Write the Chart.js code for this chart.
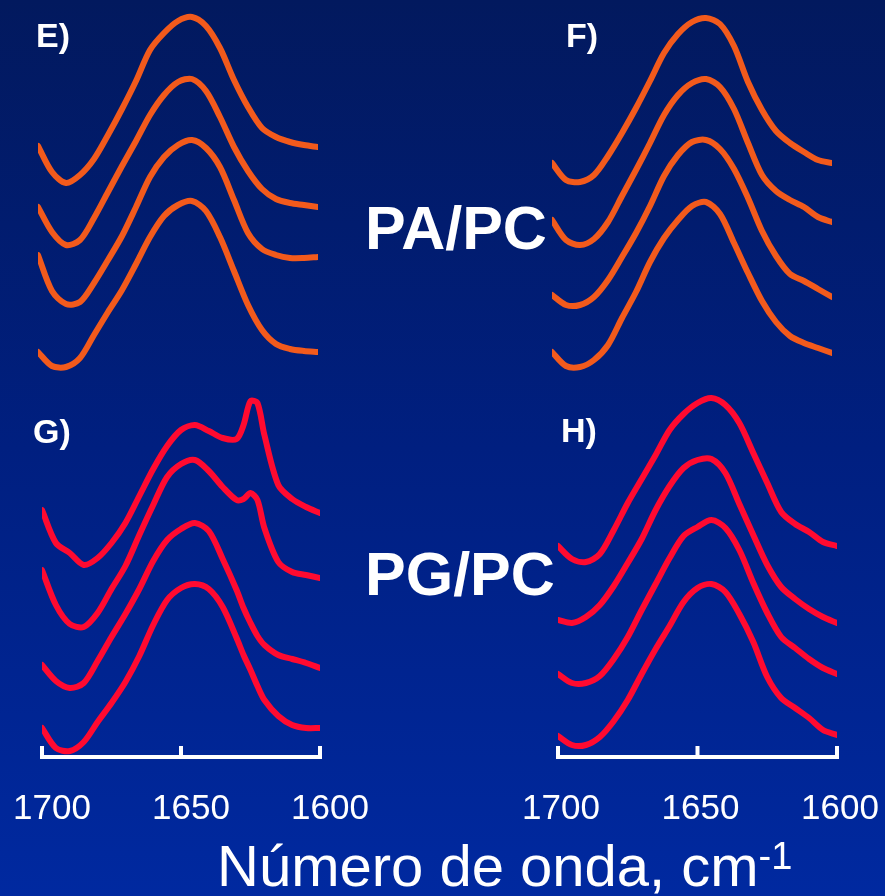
<!DOCTYPE html>
<html>
<head>
<meta charset="utf-8">
<script src="https://cdn.jsdelivr.net/npm/chart.js@4/dist/chart.umd.min.js"></script>
<style>
  html, body { margin: 0; padding: 0; }
  body {
    width: 885px; height: 896px; overflow: hidden; position: relative;
    background: linear-gradient(to bottom, #02195e 0%, #001f80 50%, #0029a0 100%);
    font-family: "Liberation Sans", Arial, sans-serif; color: #fff;
  }
  canvas { position: absolute; left: 0; top: 0; }
  .lbl { position: absolute; line-height: 1; white-space: nowrap; }
  .panel { font-size: 34px; font-weight: bold; }
  .group { font-size: 61px; font-weight: bold; }
  .title { font-size: 58px; }
  .title span { font-size: 38px; position: relative; top: -17px; }
</style>
</head>
<body>
<canvas id="chartE" width="885" height="896"></canvas>
<canvas id="chartF" width="885" height="896"></canvas>
<canvas id="chartG" width="885" height="896"></canvas>
<canvas id="chartH" width="885" height="896"></canvas>

<div class="lbl panel" style="left:36px; top:18px;">E)</div>
<div class="lbl panel" style="left:566px; top:18px;">F)</div>
<div class="lbl panel" style="left:33px; top:414px;">G)</div>
<div class="lbl panel" style="left:561px; top:413px;">H)</div>
<div class="lbl group" style="left:365px; top:198px;">PA/PC</div>
<div class="lbl group" style="left:365px; top:544px;">PG/PC</div>
<div class="lbl title" style="left:217px; top:837px;">Número de onda, cm<span>-1</span></div>

<script>
// wavenumber grids (cm-1); G gets two extra points around the sharp band near 1625
var wavenumbers = [1700, 1695, 1690, 1685, 1680, 1675, 1670, 1665, 1660, 1655, 1650,
                   1645, 1640, 1635, 1630, 1625, 1620, 1615, 1610, 1605, 1600];
var wavenumbersG = [1700, 1695, 1690, 1685, 1680, 1675, 1670, 1665, 1660, 1655, 1650,
                    1645, 1640, 1635, 1630, 1627.5, 1625, 1622.5, 1620, 1615, 1610, 1605, 1600];
var axisTicks = [1700, 1650, 1600];

// E) PA/PC, stacked spectra (arbitrary absorbance, already offset)
var spectrumE1 = [6.11, 5.85, 5.74, 5.82, 5.98, 6.22, 6.48, 6.76, 7.07, 7.24, 7.36, 7.40, 7.31, 7.09, 6.77, 6.50, 6.29, 6.20, 6.15, 6.12, 6.10];
var spectrumE2 = [5.50, 5.25, 5.12, 5.17, 5.39, 5.65, 5.91, 6.16, 6.42, 6.62, 6.75, 6.78, 6.66, 6.40, 6.10, 5.86, 5.68, 5.58, 5.54, 5.52, 5.50];
var spectrumE3 = [5.02, 4.66, 4.53, 4.55, 4.74, 4.97, 5.21, 5.50, 5.80, 6.00, 6.12, 6.17, 6.09, 5.90, 5.57, 5.24, 5.08, 5.02, 4.99, 4.99, 5.00];
var spectrumE4 = [4.05, 3.91, 3.90, 3.99, 4.22, 4.45, 4.67, 4.93, 5.20, 5.41, 5.52, 5.56, 5.46, 5.20, 4.86, 4.52, 4.27, 4.13, 4.08, 4.06, 4.05];

// F) PA/PC
var spectrumF1 = [5.94, 5.77, 5.75, 5.82, 6.01, 6.24, 6.49, 6.76, 7.04, 7.23, 7.35, 7.39, 7.33, 7.11, 6.75, 6.47, 6.26, 6.14, 6.05, 5.97, 5.94];
var spectrumF2 = [5.37, 5.17, 5.12, 5.18, 5.35, 5.61, 5.87, 6.14, 6.42, 6.62, 6.74, 6.78, 6.70, 6.48, 6.14, 5.82, 5.66, 5.57, 5.50, 5.40, 5.35];
var spectrumF3 = [4.62, 4.52, 4.52, 4.60, 4.77, 5.00, 5.24, 5.51, 5.81, 6.02, 6.15, 6.17, 6.08, 5.88, 5.59, 5.26, 5.01, 4.83, 4.76, 4.68, 4.60];
var spectrumF4 = [4.05, 3.91, 3.90, 3.97, 4.12, 4.39, 4.65, 4.95, 5.19, 5.37, 5.51, 5.55, 5.43, 5.14, 4.84, 4.56, 4.35, 4.21, 4.14, 4.09, 4.04];

// G) PG/PC (uses wavenumbersG)
var spectrumG1 = [2.47, 2.14, 2.04, 1.92, 1.99, 2.14, 2.34, 2.61, 2.88, 3.11, 3.27, 3.32, 3.26, 3.19, 3.18, 3.32, 3.56, 3.54, 3.22, 2.72, 2.58, 2.50, 2.44];
var spectrumG2 = [1.87, 1.52, 1.33, 1.30, 1.44, 1.68, 1.91, 2.22, 2.52, 2.80, 2.93, 2.97, 2.86, 2.70, 2.57, 2.58, 2.64, 2.57, 2.29, 1.95, 1.85, 1.82, 1.79];
var spectrumG3 = [0.92, 0.76, 0.69, 0.74, 0.96, 1.20, 1.43, 1.68, 1.96, 2.17, 2.28, 2.34, 2.26, 1.98, 1.67, 1.49, 1.34, 1.21, 1.12, 1.02, 0.98, 0.94, 0.89];
var spectrumG4 = [0.29, 0.09, 0.06, 0.15, 0.35, 0.54, 0.75, 1.01, 1.32, 1.57, 1.69, 1.73, 1.68, 1.50, 1.19, 1.02, 0.87, 0.71, 0.57, 0.41, 0.32, 0.29, 0.29];

// H) PG/PC
var spectrumH1 = [2.11, 1.98, 1.95, 2.03, 2.27, 2.54, 2.78, 3.02, 3.27, 3.43, 3.54, 3.59, 3.52, 3.34, 3.04, 2.74, 2.45, 2.33, 2.25, 2.15, 2.11];
var spectrumH2 = [1.37, 1.34, 1.40, 1.52, 1.71, 1.94, 2.18, 2.47, 2.71, 2.89, 2.97, 2.98, 2.84, 2.53, 2.22, 1.92, 1.70, 1.58, 1.48, 1.40, 1.34];
var spectrumH3 = [0.83, 0.74, 0.74, 0.81, 0.98, 1.20, 1.47, 1.73, 1.99, 2.21, 2.30, 2.37, 2.29, 2.07, 1.74, 1.44, 1.20, 1.09, 0.98, 0.89, 0.83];
var spectrumH4 = [0.21, 0.12, 0.12, 0.20, 0.36, 0.57, 0.83, 1.08, 1.31, 1.55, 1.69, 1.73, 1.65, 1.43, 1.15, 0.80, 0.59, 0.49, 0.39, 0.27, 0.22];

var orange = "#f25a1c";
var red = "#ff0a30";
var yTop = 7.57;      // absorbance at top of plot area
var axisHeight = 139; // room under the plot for tick labels

Chart.defaults.font.family = "'Liberation Sans', Arial, sans-serif";

// short white ticks that stand up from the axis line
var upTicks = {
    id: "upTicks",
    afterDraw: function(chart) {
        var xs = chart.scales.x;
        if (!xs.options.display) return;
        var ctx = chart.ctx;
        ctx.save();
        ctx.strokeStyle = "#ffffff";
        ctx.lineWidth = 4;
        axisTicks.forEach(function(v) {
            var px = xs.getPixelForValue(v);
            ctx.beginPath();
            ctx.moveTo(px, xs.top + 2);
            ctx.lineTo(px, xs.top - 11);
            ctx.stroke();
        });
        ctx.restore();
    }
};

function makeChart(id, xs, spectra, color, left, right, showAxis, labelShift) {
    var datasets = spectra.map(function(ys) {
        return {
            data: xs.map(function(x, i) { return { x: x, y: ys[i] }; }),
            borderColor: color,
            borderWidth: 6,
            pointRadius: 0,
            fill: false,
            tension: 0.3,
            borderCapStyle: "round",
            borderJoinStyle: "round"
        };
    });
    return new Chart(document.getElementById(id), {
        type: "line",
        data: { datasets: datasets },
        plugins: [upTicks],
        options: {
            responsive: false,
            animation: false,
            devicePixelRatio: 1,
            layout: { padding: { left: left, right: 885 - right, top: 0, bottom: showAxis ? 0 : axisHeight } },
            plugins: { legend: { display: false }, tooltip: { enabled: false } },
            scales: {
                x: {
                    type: "linear",
                    reverse: true,
                    min: 1600,
                    max: 1700,
                    display: showAxis,
                    afterFit: function(scale) {
                        // fixed axis band, and no extra side room for the end labels
                        if (showAxis) scale.height = axisHeight;
                        scale.paddingLeft = 0;
                        scale.paddingRight = 0;
                    },
                    afterBuildTicks: function(scale) {
                        scale.ticks = axisTicks.map(function(v) { return { value: v }; });
                    },
                    grid: { display: false, drawTicks: false },
                    border: { display: true, color: "#ffffff", width: 4 },
                    ticks: {
                        color: "#ffffff",
                        font: { size: 35 },
                        padding: 31,
                        labelOffset: labelShift || 0,
                        maxRotation: 0,
                        autoSkip: false,
                        callback: function(v) { return String(v); }
                    }
                },
                y: { display: false, min: 0, max: yTop }
            }
        }
    });
}

makeChart("chartE", wavenumbers, [spectrumE1, spectrumE2, spectrumE3, spectrumE4], orange, 38, 318, false);
makeChart("chartF", wavenumbers, [spectrumF1, spectrumF2, spectrumF3, spectrumF4], orange, 552, 832, false);
makeChart("chartG", wavenumbersG, [spectrumG1, spectrumG2, spectrumG3, spectrumG4], red, 42, 320, true, 10);
makeChart("chartH", wavenumbers, [spectrumH1, spectrumH2, spectrumH3, spectrumH4], red, 558, 837, true, 3);
</script>
</body>
</html>
